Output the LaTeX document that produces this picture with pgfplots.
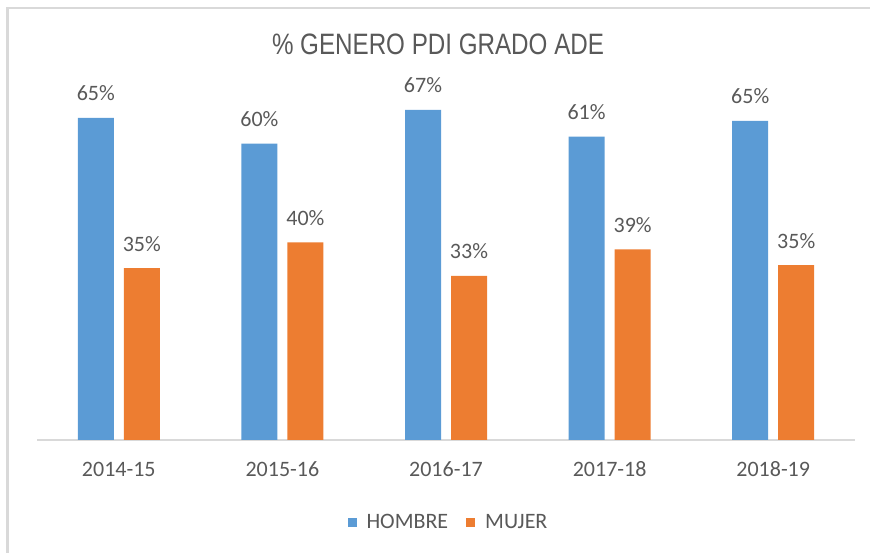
\documentclass[border=0pt]{standalone}
\usepackage{pgfplots}
\pgfplotsset{compat=1.18}
\usepackage{fontspec}
\setmainfont{Carlito}
\newfontfamily\titlefont{Liberation Sans}
\definecolor{hblue}{HTML}{5B9BD5}
\definecolor{morange}{HTML}{ED7D31}
\definecolor{txt}{HTML}{595959}
\definecolor{frame}{HTML}{D9D9D9}
\begin{document}
\begin{tikzpicture}[x=1bp,y=1bp]
\path[use as bounding box] (0,0) rectangle (870,553);
\draw[frame, line width=2.5bp] (7.5,0) -- (7.5,545) -- (870,545);
\node[text=txt, font=\titlefont\fontsize{29.5bp}{30bp}\selectfont] at (438,509) {\scalebox{0.82}[1]{\% GENERO PDI GRADO ADE}};
\begin{axis}[
  at={(37bp,113bp)}, anchor=south west,
  scale only axis, width=818bp, height=395.2bp,
  xmin=-0.5, xmax=4.5, ymin=0, ymax=80,
  axis x line=bottom, axis y line=none,
  x axis line style={frame, line width=1.6bp, -},
  xtick={0,1,2,3,4},
  xticklabels={2014-15,2015-16,2016-17,2017-18,2018-19},
  xtick style={draw=none},
  xticklabel style={font=\fontsize{22bp}{24bp}\selectfont, text=txt, anchor=base, yshift=-32bp},
  ybar, bar width=36bp,
  clip=false,
  point meta=y,
  nodes near coords={\pgfmathprintnumber[fixed,precision=0,assume math mode=true]{\pgfplotspointmeta}\%},
  nodes near coords align={anchor=base},
  every node near coord/.append style={font=\fontsize{22bp}{24bp}\selectfont, text=txt, yshift=17bp},
  legend columns=2,
  legend style={draw=none, fill=none, at={(0.503,-0.2075)}, anchor=center,
    font=\fontsize{22bp}{24bp}\selectfont, text=txt,
    /tikz/every even column/.append style={column sep=16bp}},
  legend image code/.code={\fill[#1] (0bp,-4.5bp) rectangle (9bp,4.5bp); \path (17bp,0bp);},
]
\addplot[fill=hblue, draw=none, bar shift=-23bp] coordinates {(0,65.2) (1,60.0) (2,66.8) (3,61.4) (4,64.6)};
\addplot[fill=morange, draw=none, bar shift=23bp] coordinates {(0,34.8) (1,40.0) (2,33.2) (3,38.6) (4,35.4)};
\legend{HOMBRE,MUJER}
\end{axis}
\end{tikzpicture}
\end{document}
